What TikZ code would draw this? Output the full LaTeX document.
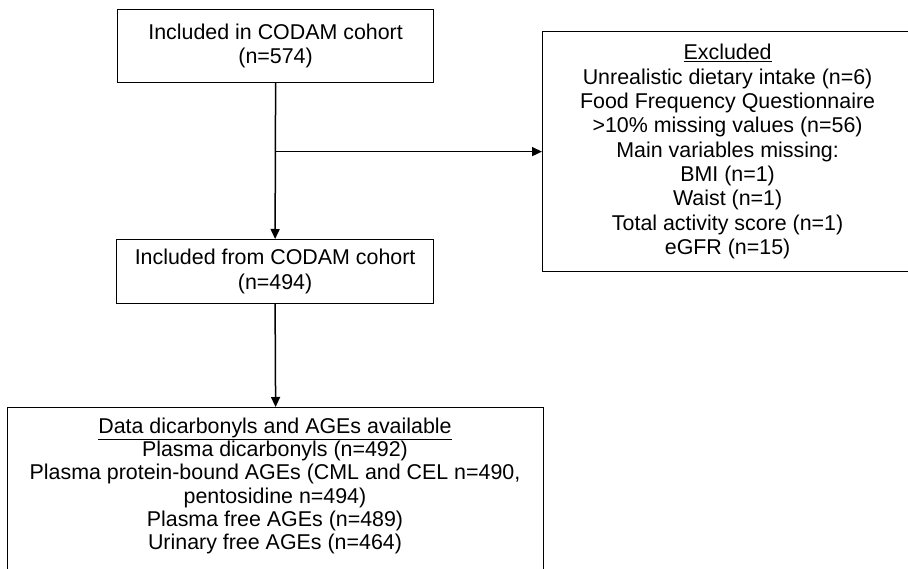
\documentclass[tikz,border=0pt]{standalone}
\usepackage{fontspec}
\setmainfont{Liberation Sans}
\usetikzlibrary{arrows.meta}
\begin{document}
\begin{tikzpicture}[x=1pt,y=-1pt,
  box/.style={draw=black,line width=1.2pt,inner sep=0pt,anchor=north west,align=center,
    font=\fontsize{21.4}{24.3}\selectfont},
  txt/.style={inner sep=0pt,align=center,font=\fontsize{21.4}{23.2}\selectfont},
  arr/.style={line width=1.5pt,-{Triangle[length=10pt,width=9pt]}}]
\useasboundingbox (0,0) rectangle (908,569);
\clip (0,0) rectangle (908,569);
\node[box,minimum width=316pt,minimum height=73pt] (b1) at (117,9)
  {Included in CODAM cohort\\(n=574)};
\node[box,minimum width=317pt,minimum height=64pt] (b2) at (116,239)
  {Included from CODAM cohort\\(n=494)};
\node[box,minimum width=370pt,minimum height=240pt] (ex) at (542,31)
  {\underline{Excluded}\\Unrealistic dietary intake (n=6)\\Food Frequency Questionnaire\\
   {>}10\% missing values (n=56)\\Main variables missing:\\BMI (n=1)\\Waist (n=1)\\
   Total activity score (n=1)\\eGFR (n=15)};
\node[box,minimum width=536pt,minimum height=176pt] (b3) at (7,407) {};
\node[txt] (t3) at (275,486)
  {\underline{Data dicarbonyls and AGEs available}\\Plasma dicarbonyls (n=492)\\
   Plasma protein-bound AGEs (CML and CEL n=490,\hspace*{8pt}\\pentosidine n=494)\\
   Plasma free AGEs (n=489)\\Urinary free AGEs (n=464)};
\coordinate (j) at (b1.south |- ex.west);
\draw[arr] (b1.south) -- (b2.north);
\draw[arr] (j) -- (ex.west);
\draw[arr] (b2.south) -- (b1.south |- b3.north);
\end{tikzpicture}
\end{document}
